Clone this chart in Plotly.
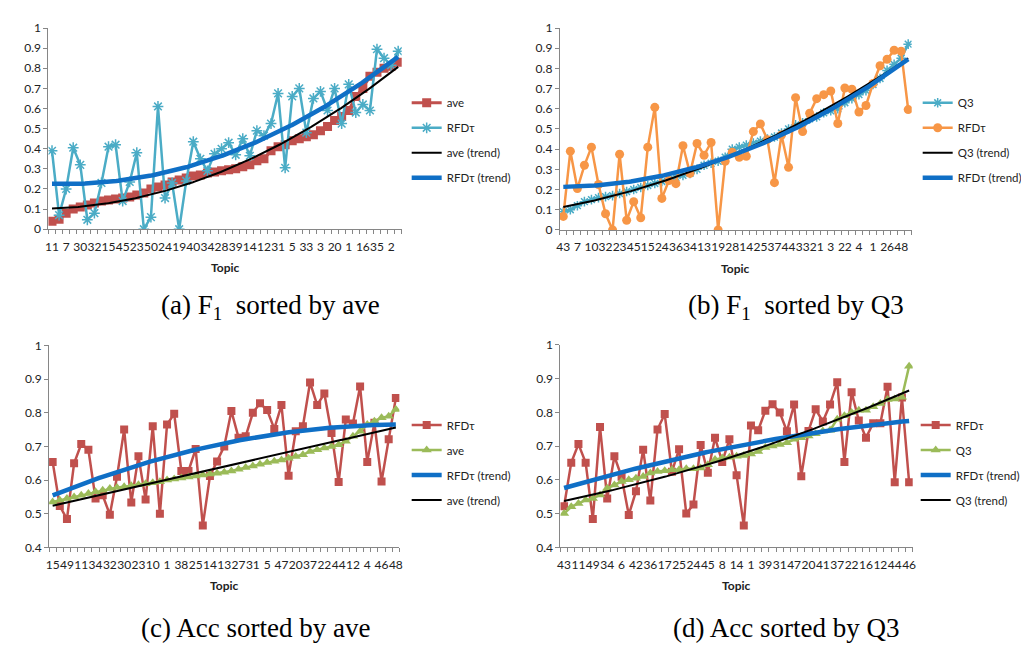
import numpy as np
import plotly.graph_objects as go

# ---------------- data ----------------
# (a) F1 sorted by ave  (50 topics, every other label shown)
labels_a = ["11","7","30","32","15","45","23","50","24","19","40","34","28","39","14",
            "12","31","5","33","3","20","1","16","35","2"]
f1_ave_a = [0.04,0.05,0.08,0.10,0.11,0.12,0.13,0.14,0.145,0.15,0.155,0.16,0.17,0.18,0.20,
            0.21,0.22,0.235,0.245,0.255,0.265,0.27,0.28,0.285,0.29,0.295,0.30,0.31,0.32,0.34,
            0.35,0.39,0.41,0.42,0.44,0.45,0.46,0.47,0.49,0.51,0.54,0.56,0.59,0.66,0.70,
            0.76,0.78,0.80,0.81,0.83]
f1_rfd_a = [0.39,0.07,0.20,0.405,0.32,0.047,0.08,0.23,0.41,0.42,0.14,0.235,0.38,0.0,0.06,
            0.61,0.155,0.23,0.0,0.24,0.435,0.35,0.29,0.375,0.40,0.43,0.37,0.45,0.365,0.49,
            0.465,0.525,0.675,0.305,0.66,0.70,0.48,0.65,0.685,0.59,0.70,0.525,0.72,0.58,0.62,
            0.59,0.895,0.85,0.815,0.885]

# (b) F1 sorted by Q3  (50 topics)
labels_b = ["43","7","10","32","23","45","15","24","36","34","13","19","28","14","25",
            "37","44","33","21","3","22","4","1","26","48"]
f1_q3_b = [0.09,0.10,0.12,0.14,0.15,0.16,0.165,0.17,0.18,0.19,0.20,0.21,0.22,0.23,0.24,
           0.25,0.26,0.27,0.28,0.30,0.32,0.33,0.34,0.36,0.40,0.41,0.42,0.43,0.44,0.45,
           0.46,0.48,0.50,0.52,0.53,0.55,0.56,0.58,0.59,0.60,0.63,0.65,0.67,0.69,0.72,
           0.75,0.79,0.82,0.85,0.92]
f1_rfd_b = [0.067,0.39,0.205,0.32,0.41,0.225,0.08,0.0,0.375,0.048,0.14,0.06,0.41,0.607,0.156,
            0.245,0.229,0.417,0.28,0.428,0.37,0.433,0.0,0.34,0.385,0.36,0.365,0.487,0.525,0.447,
            0.234,0.47,0.31,0.655,0.487,0.578,0.65,0.67,0.688,0.527,0.703,0.697,0.584,0.616,0.725,
            0.813,0.845,0.89,0.885,0.596]

# (c) Acc sorted by ave  (49 topics)
labels_c = ["15","49","11","34","32","30","23","10","1","38","25","14","13","27","31",
            "5","47","20","37","22","44","12","4","46","48"]
acc_rfd_c = [0.654,0.523,0.484,0.65,0.707,0.69,0.545,0.555,0.497,0.61,0.75,0.533,0.671,0.542,0.76,
             0.50,0.765,0.797,0.627,0.627,0.692,0.465,0.612,0.655,0.70,0.805,0.726,0.73,0.80,0.828,
             0.808,0.752,0.823,0.613,0.745,0.76,0.89,0.823,0.857,0.74,0.594,0.78,0.768,0.878,0.654,
             0.77,0.596,0.721,0.844]
acc_ave_c = [0.535,0.54,0.545,0.55,0.555,0.56,0.565,0.57,0.575,0.578,0.58,0.583,0.586,0.589,0.592,
             0.595,0.60,0.603,0.606,0.609,0.612,0.615,0.618,0.62,0.623,0.627,0.632,0.637,0.642,0.647,
             0.652,0.656,0.66,0.665,0.67,0.675,0.685,0.69,0.695,0.70,0.705,0.715,0.73,0.745,0.765,
             0.775,0.785,0.79,0.81]

# (d) Acc sorted by Q3  (49 topics)
labels_d = ["43","11","49","34","6","42","36","17","25","24","45","8","14","1","39",
            "31","47","20","41","37","22","16","12","44","46"]
acc_rfd_d = [0.522,0.651,0.706,0.651,0.484,0.757,0.545,0.67,0.609,0.496,0.566,0.689,0.539,0.749,0.795,
             0.624,0.691,0.50,0.527,0.703,0.621,0.725,0.653,0.72,0.614,0.465,0.761,0.747,0.805,0.824,
             0.80,0.744,0.823,0.611,0.745,0.809,0.773,0.823,0.889,0.653,0.86,0.776,0.725,0.768,0.768,
             0.876,0.593,0.844,0.593]
acc_q3_d = [0.50,0.52,0.53,0.54,0.545,0.555,0.575,0.585,0.595,0.60,0.605,0.61,0.62,0.625,0.627,
            0.63,0.63,0.633,0.633,0.635,0.645,0.66,0.665,0.667,0.67,0.672,0.677,0.684,0.696,0.70,
            0.705,0.71,0.72,0.725,0.73,0.737,0.745,0.747,0.78,0.79,0.80,0.806,0.806,0.817,0.826,
            0.838,0.84,0.845,0.937]

# ---------------- styling ----------------
W, H = 1029, 646
RED, CYAN, GREEN, ORANGE = "#C0504D", "#4BACC6", "#9BBB59", "#F79646"
BLUE, BLACK = "#0F6FC6", "#000000"
AXC = "#868686"
FONT = "Lato"

def px_x(p):
    return p / W

def px_y(p):
    return 1 - p / H

def trend(vals, deg):
    x = np.arange(len(vals))
    c = np.polyfit(x, np.asarray(vals, float), deg)
    xs = np.linspace(0, len(vals) - 1, 200)
    return xs, np.polyval(c, xs)

fig = go.Figure()

panels = [
    dict(k="", xd=(37.7, 393), yd=(12.3, 218.3), yr=(0, 1), labels=labels_a,
         series=[("ave", f1_ave_a, RED, "square", 9, 3, 2),
                 ("RFDτ", f1_rfd_a, CYAN, "asterisk-open", 9, 2.5, 2)],
         lg=(398, 74)),
    dict(k="2", xd=(552, 906), yd=(12.3, 219), yr=(0, 1), labels=labels_b,
         series=[("Q3", f1_q3_b, CYAN, "asterisk-open", 8, 2.5, 2),
                 ("RFDτ", f1_rfd_b, ORANGE, "circle", 9, 2.5, 2)],
         lg=(912, 74)),
    dict(k="3", xd=(38.3, 390.7), yd=(337.3, 544), yr=(0.4, 1), labels=labels_c,
         series=[("RFDτ", acc_rfd_c, RED, "square", 8, 2.5, 2),
                 ("ave", acc_ave_c, GREEN, "triangle-up", 9, 2.5, 1)],
         lg=(398, 404)),
    dict(k="4", xd=(552.7, 907), yd=(336.7, 544), yr=(0.4, 1), labels=labels_d,
         series=[("RFDτ", acc_rfd_d, RED, "square", 8, 2.5, 2),
                 ("Q3", acc_q3_d, GREEN, "triangle-up", 9, 2.5, 2)],
         lg=(910, 404)),
]

for p in panels:
    k = p["k"]
    xa, ya = "x" + k, "y" + k
    lgname = "legend" + k
    n = len(p["series"][0][1])
    xs_idx = list(range(n))
    for name, vals, col, sym, msz, lw, _ in p["series"]:
        mk = dict(symbol=sym, size=msz, color=col)
        if sym == "asterisk-open":
            mk["line"] = dict(color=col, width=1.5)
        fig.add_trace(go.Scatter(x=xs_idx, y=vals, mode="lines+markers", name=name,
                                 line=dict(color=col, width=lw), marker=mk,
                                 xaxis=xa, yaxis=ya, legend=lgname, legendgroup=k + name))
    for name, vals, col, sym, msz, lw, deg in p["series"]:
        tcol = BLUE if name == "RFDτ" else BLACK
        twid = 4.5 if name == "RFDτ" else 2
        tx, ty = trend(vals, deg)
        fig.add_trace(go.Scatter(x=tx, y=ty, mode="lines", name=name + " (trend)",
                                 line=dict(color=tcol, width=twid),
                                 xaxis=xa, yaxis=ya, legend=lgname,
                                 legendgroup=k + name + "t"))

    fig.layout["xaxis" + k] = dict(
        domain=[px_x(p["xd"][0]), px_x(p["xd"][1])], anchor=ya,
        range=[-0.5, n - 0.5], showgrid=False, zeroline=False,
        showline=True, linecolor=AXC, linewidth=1,
        tickmode="array", tickvals=list(range(0, n, 2)), ticktext=p["labels"],
        ticks="", tickangle=0, tickfont=dict(family=FONT, size=12, color="#222"),
        ticklabelstandoff=6,
        minor=dict(tickmode="array", tickvals=[i - 0.5 for i in range(n + 1)],
                   ticks="outside", ticklen=4, tickcolor=AXC, tickwidth=1, showgrid=False),
    )
    fig.layout["yaxis" + k] = dict(
        domain=[px_y(p["yd"][1]), px_y(p["yd"][0])], anchor=xa,
        range=list(p["yr"]), dtick=0.1, tick0=0, showgrid=False, zeroline=False,
        showline=True, linecolor=AXC, linewidth=1,
        ticks="outside", ticklen=4, tickcolor=AXC,
        tickfont=dict(family=FONT, size=12, color="#222"),
    )
    fig.layout[lgname] = dict(
        x=px_x(p["lg"][0]), y=px_y(p["lg"][1]), xanchor="left", yanchor="top",
        font=dict(family=FONT, size=11.5, color="#222"), bgcolor="rgba(0,0,0,0)",
        tracegroupgap=6, itemwidth=30,
    )
    fig.add_annotation(x=(px_x(p["xd"][0]) + px_x(p["xd"][1])) / 2,
                       y=px_y(p["yd"][1] + 39), xref="paper", yref="paper",
                       text="<b>Topic</b>", showarrow=False, xanchor="center", yanchor="middle",
                       font=dict(family=FONT, size=12, color="#222"))

captions = [("(a) F<sub>1</sub>  sorted by ave", 261, 298),
            ("(b) F<sub>1</sub>  sorted by Q3", 790, 298),
            ("(c) Acc sorted by ave", 246, 627),
            ("(d) Acc sorted by Q3", 780, 627)]
for txt, cx, cy in captions:
    fig.add_annotation(x=px_x(cx), y=px_y(cy), xref="paper", yref="paper", text=txt,
                       showarrow=False, xanchor="center", yanchor="middle",
                       font=dict(family="Liberation Serif", size=27, color="#000"))

fig.update_layout(width=W, height=H, autosize=False, margin=dict(l=0, r=0, t=0, b=0),
                  paper_bgcolor="white", plot_bgcolor="white", showlegend=True)

fig.write_html("out.html")
